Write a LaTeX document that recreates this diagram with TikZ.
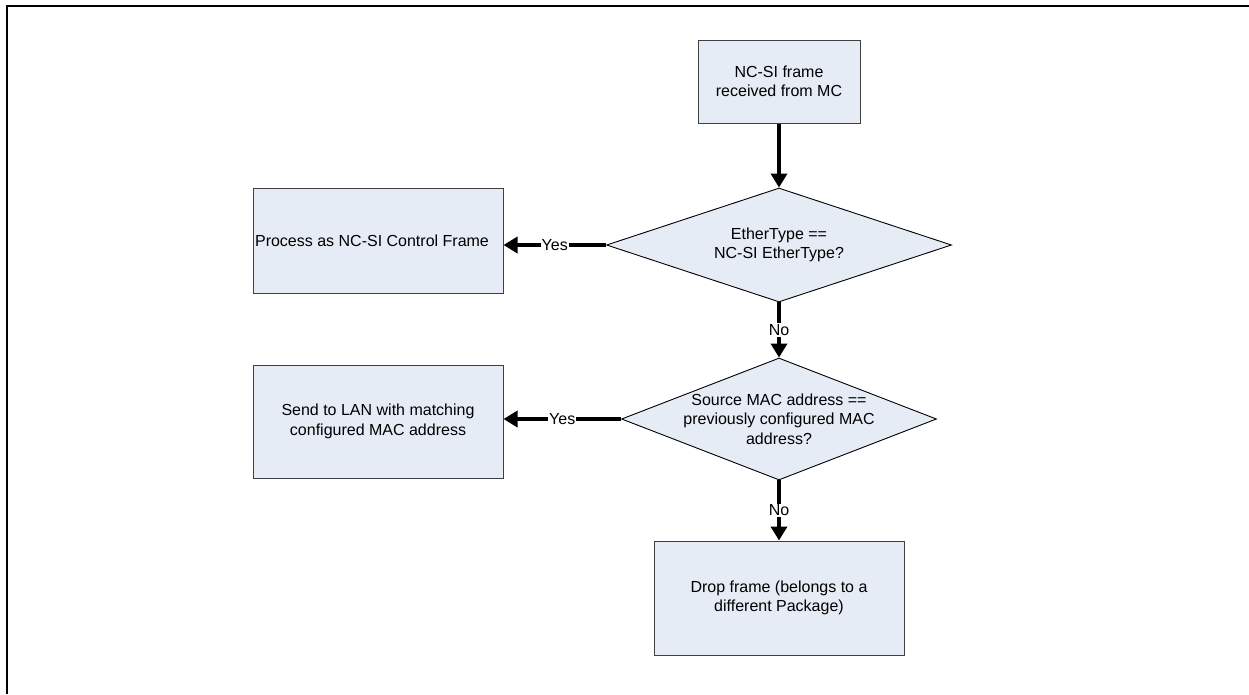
\documentclass[tikz,border=0pt]{standalone}
\usepackage{fontspec}
\setmainfont{Liberation Sans}
\usetikzlibrary{arrows.meta,shapes.geometric}

\definecolor{boxfill}{RGB}{230,236,246}
\definecolor{boxline}{RGB}{64,64,64}

\begin{document}
\begin{tikzpicture}[x=1pt, y=-1pt, font=\fontsize{16}{19.5}\selectfont,
      stepbox/.style={draw=boxline, fill=boxfill, line width=1pt, align=center, inner sep=0pt},
      decision/.style={diamond, draw=black, fill=boxfill, line width=0.9pt, inner sep=0pt, aspect=1},
      flow/.style={line width=4pt, -{Triangle[length=14pt, width=16pt]}},
      lab/.style={fill=white, inner sep=1pt}]

    \useasboundingbox (0,0) rectangle (1249,694);
    \draw[line width=2pt] (6.5,694) -- (6.5,5.5) -- (1249,5.5);

    \node[stepbox, minimum width=162pt, minimum height=83pt] (rx) at (779,81.5)
        {NC-SI frame\\received from MC};
    \node[decision, minimum width=345pt, minimum height=114pt,
          label={[align=center]center:EtherType ==\\NC-SI EtherType?}] (ethtype) at (779,245) {};
    \node[stepbox, minimum width=250pt, minimum height=105pt] (ctrl) at (378,240.5)
        {Process as NC-SI Control Frame\hspace*{12pt}};
    \node[decision, minimum width=315pt, minimum height=122pt,
          label={[align=center]center:Source MAC address ==\\previously configured MAC\\address?}] (srcmac) at (779,419) {};
    \node[stepbox, minimum width=250pt, minimum height=113pt] (lan) at (378,421.5)
        {Send to LAN with matching\\configured MAC address};
    \node[stepbox, minimum width=250pt, minimum height=114pt] (drop) at (779,598)
        {Drop frame (belongs to a\\different Package)};

    \draw[flow] (rx) -- (ethtype);
    \draw[flow] (ethtype.west) -- node[lab] (yes1) {Yes} (ctrl.east |- ethtype.west);
    \draw[flow] (ethtype.south) -- node[lab] (no1) {No} (srcmac.north);
    \draw[flow] (srcmac.west) -- node[lab] (yes2) {Yes} (lan.east |- srcmac.west);
    \draw[flow] (srcmac.south) -- node[lab] (no2) {No} (drop.north);
  \end{tikzpicture}
\end{document}
